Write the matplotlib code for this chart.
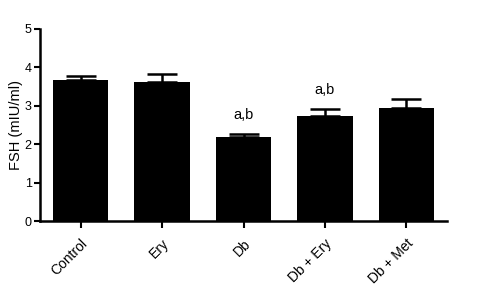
import matplotlib.pyplot as plt

groups = ["Control", "Ery", "Db", "Db + Ery", "Db + Met"]
fsh = [3.67, 3.63, 2.20, 2.74, 2.94]
sem = [0.10, 0.20, 0.07, 0.18, 0.24]
marks = ["", "", "a,b", "a,b", ""]

plt.rcParams['font.family'] = ['Liberation Sans', 'DejaVu Sans']

fig = plt.figure(figsize=(4.9, 3.02), dpi=100)
ax = fig.add_axes([40/490, 1 - 221/302, 407/490, 192/302])

x = range(len(groups))
ax.bar(x, fsh, width=0.68, color='black', zorder=2)
ax.errorbar(x, fsh, yerr=[[0]*len(sem), sem], fmt='none', ecolor='black',
            elinewidth=1.8, capsize=11, capthick=1.8, zorder=1)

for i, m in enumerate(marks):
    if m:
        ax.text(i, fsh[i] + sem[i] + 0.48, m, ha='center', va='center', fontsize=10.5)

ax.set_xlim(-0.5, 4.5)
ax.set_ylim(0, 5)
ax.set_yticks([0, 1, 2, 3, 4, 5])
ax.set_xticks(list(x))
ax.set_xticklabels(groups, rotation=45, ha='right', rotation_mode='anchor', fontsize=10)
ax.tick_params(axis='y', labelsize=9, width=1.5, length=4, pad=2)
ax.tick_params(axis='x', width=1.5, length=5, pad=6)
ax.set_ylabel("FSH (mIU/ml)", fontsize=10.5, labelpad=1)

for s in ['top', 'right']:
    ax.spines[s].set_visible(False)
for s in ['left', 'bottom']:
    ax.spines[s].set_linewidth(1.8)

fig.savefig("out.png", dpi=100)
